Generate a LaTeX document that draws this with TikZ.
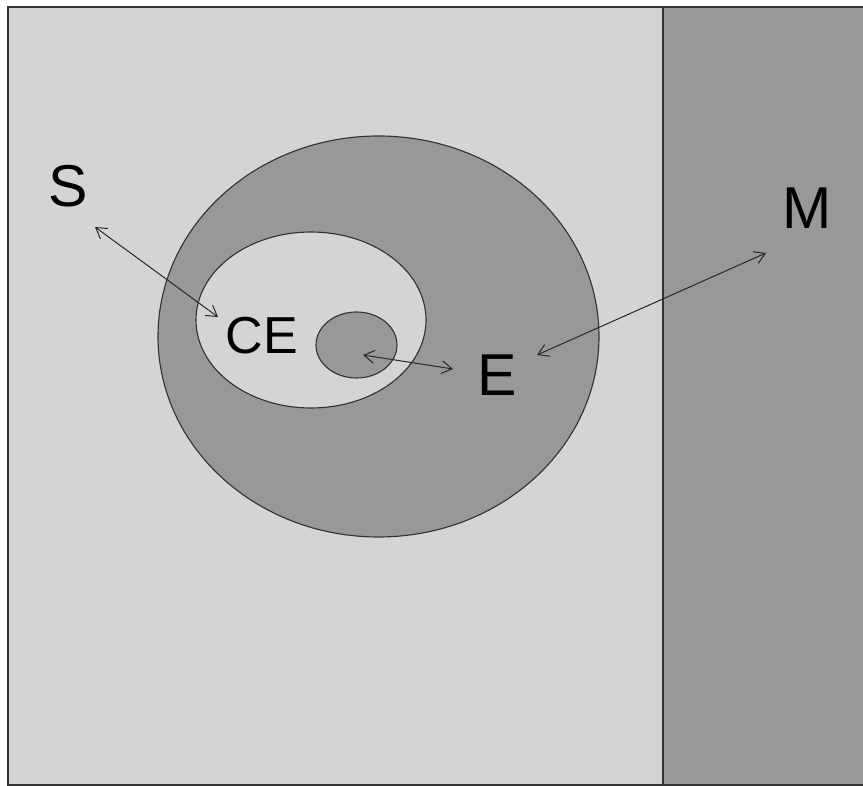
\documentclass[tikz,border=0pt]{standalone}
\usepackage{fontspec}
\setmainfont{Liberation Sans}
\usetikzlibrary{arrows.meta}
\definecolor{paleback}{RGB}{212,212,212}
\definecolor{darkfill}{RGB}{152,152,152}
\tikzstyle{region} = [draw=black!80, line width=0.8pt]
\tikzstyle{big-label} = [inner sep=0pt, font=\fontsize{42}{42}\selectfont]
\tikzstyle{mid-label} = [inner sep=0pt, font=\fontsize{37}{37}\selectfont]
\tikzstyle{arrow} = [black!85, line width=0.7pt, {Straight Barb[length=2.6mm,width=3.2mm]}-{Straight Barb[length=2.6mm,width=3.2mm]}]

\begin{document}
\begin{tikzpicture}[x=0.025cm, y=-0.025cm]
\useasboundingbox (0,0) rectangle (863,786);

% Background panels
\fill [paleback] (8,7) rectangle (663,785);
\fill [darkfill] (663,7) rectangle (863,785);
\draw [region] (863,7) -- (8,7) -- (8,785) -- (863,785);
\draw [region] (663,7) -- (663,785);

% Nested ellipses
\draw [region, fill=darkfill] (378.5,336.5) ellipse [x radius=220.5, y radius=200.5];
\draw [region, fill=paleback] (311,320) ellipse [x radius=115, y radius=88];
\draw [region, fill=darkfill] (356.5,345) ellipse [x radius=40.5, y radius=33];

% Labels
\node (s) [big-label] at (68,186) {S};
\node (ce) [mid-label] at (262,336) {CE};
\node (e) [big-label] at (497,375) {E};
\node (m) [big-label] at (807,208) {M};

% Arrow ends
\coordinate (s-end) at (95,227);
\coordinate (ce-end) at (218,317);
\coordinate (core-end) at (363,355);
\coordinate (e-left) at (453,369);
\coordinate (e-right) at (537,355);
\coordinate (m-end) at (766,253);

\draw [arrow] (s-end) -- (ce-end);
\draw [arrow] (core-end) -- (e-left);
\draw [arrow] (e-right) -- (m-end);

\end{tikzpicture}
\end{document}
